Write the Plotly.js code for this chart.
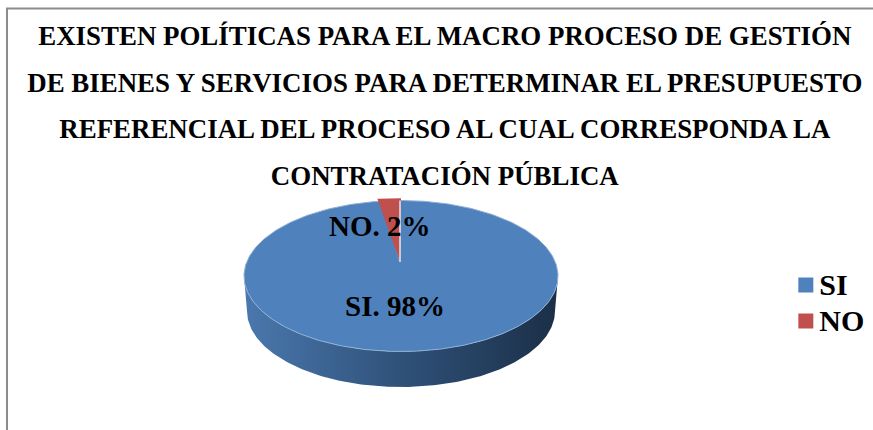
<!DOCTYPE html>
<html><head><meta charset="utf-8">
<script src="https://cdn.plot.ly/plotly-3.0.1.min.js"></script>
<style>html,body{margin:0;padding:0;background:#fff}#c{width:873px;height:430px}</style>
</head><body><div id="c"></div>
<script>
const categories = ['SI', 'NO'];
const values = [98, 2];
const colors = ['#4F81BD', '#C0504D'];
const titleLines = [
  'EXISTEN POLÍTICAS PARA EL MACRO PROCESO DE GESTIÓN',
  'DE BIENES Y SERVICIOS PARA DETERMINAR EL PRESUPUESTO',
  'REFERENCIAL DEL PROCESO AL CUAL CORRESPONDA LA',
  'CONTRATACIÓN PÚBLICA'
];
const FONT = '"Liberation Serif","Times New Roman",serif';
const cx = 401, cy = 276, rx = 157, ry = 75.5;
const apexY = 262, depth = 35;

function rim(a0, a1, k, cyy, rxx, ryy) {
  const xs = [], ys = [];
  const n = Math.max(2, Math.ceil(Math.abs(a1 - a0)));
  for (let i = 0; i <= n; i++) {
    const t = (a0 + (a1 - a0) * i / n) * Math.PI / 180;
    xs.push(cx + (rxx || rx) * k * Math.sin(t));
    ys.push((cyy || cy) - (ryy || ry) * Math.cos(t) * (k > 1 ? 1.03 : 1));
  }
  return [xs, ys];
}
const total = values.reduce((a, b) => a + b, 0);
const siEnd = 360 * values[0] / total;

const [bx, by] = rim(0, siEnd, 1);
const [rxs, rys] = rim(siEnd, 360, 1.2);
const [s1x, s1y] = rim(90, 270, 1);
const [s2x, s2y] = rim(270, 90, 1, cy + depth, 154, 76);

const traces = [
  { type: 'scatter', mode: 'lines', x: s1x.concat(s2x), y: s1y.concat(s2y), fill: 'toself',
    fillgradient: { type: 'horizontal', colorscale: [[0, '#4A78AE'], [0.5, '#2F5179'], [1, '#1B2F47']] },
    line: { width: 0 }, showlegend: false, hoverinfo: 'skip' },
  { type: 'scatter', mode: 'lines', x: bx.concat([cx - 1]), y: by.concat([apexY]), fill: 'toself',
    fillcolor: colors[0], line: { color: '#8FB0D6', width: 1 }, showlegend: false, name: categories[0] },
  { type: 'scatter', mode: 'lines', x: rxs.concat([cx - 1]), y: rys.concat([apexY]), fill: 'toself',
    fillcolor: colors[1], line: { width: 0 }, showlegend: false, name: categories[1] },
  { type: 'scatter', mode: 'lines', x: [cx - 1, cx - 1], y: [apexY, cy - ry], line: { color: '#DCE6F2', width: 1.5 },
    showlegend: false, hoverinfo: 'skip' }
];
categories.forEach((c, i) => traces.push({
  type: 'scatter', mode: 'markers', x: [null], y: [null],
  name: '<span style="font-size:30px">' + c + '</span>',
  marker: { symbol: 'square', size: 15, color: colors[i] }
}));

const labelPos = [[395, 306], [380, 226]];
const annotations = categories.map((c, i) => ({
  xref: 'x', yref: 'y', x: labelPos[i][0], y: labelPos[i][1], showarrow: false,
  text: c + '. ' + values[i] + '%', font: { family: FONT, size: 29, color: '#000', weight: 700 }
}));

const titleSize = 26.9;
const layout = {
  width: 873, height: 430, margin: { l: 0, r: 0, t: 0, b: 0 },
  paper_bgcolor: '#fff', plot_bgcolor: '#fff',
  title: {
    text: titleLines.map(l => '<span style="font-size:' + titleSize + 'px">' + l + '</span>').join('<br>'),
    font: { family: FONT, size: 35.8, color: '#000', weight: 700 },
    x: 0.5095, xref: 'paper', xanchor: 'center', y: 0.895, yanchor: 'top', yref: 'paper'
  },
  xaxis: { range: [0, 873], visible: false, fixedrange: true },
  yaxis: { range: [430, 0], visible: false, fixedrange: true },
  legend: {
    x: 0.8927, y: 0.3905, xanchor: 'left', yanchor: 'top', bgcolor: 'rgba(0,0,0,0)',
    font: { family: FONT, size: 25.4, color: '#000', weight: 700 }, itemwidth: 30, tracegroupgap: 0
  },
  annotations,
  shapes: [{ type: 'path', path: 'M7,430 L7,8.5 L873,8.5', xref: 'x', yref: 'y',
    line: { color: '#8C8C8C', width: 2 } }]
};
Plotly.newPlot('c', traces, layout, { displayModeBar: false, staticPlot: true }).then(gd => {
  gd.querySelectorAll('.legend .legendsymbols').forEach(n => n.setAttribute('transform', 'translate(6.5,0)'));
});
</script></body></html>
